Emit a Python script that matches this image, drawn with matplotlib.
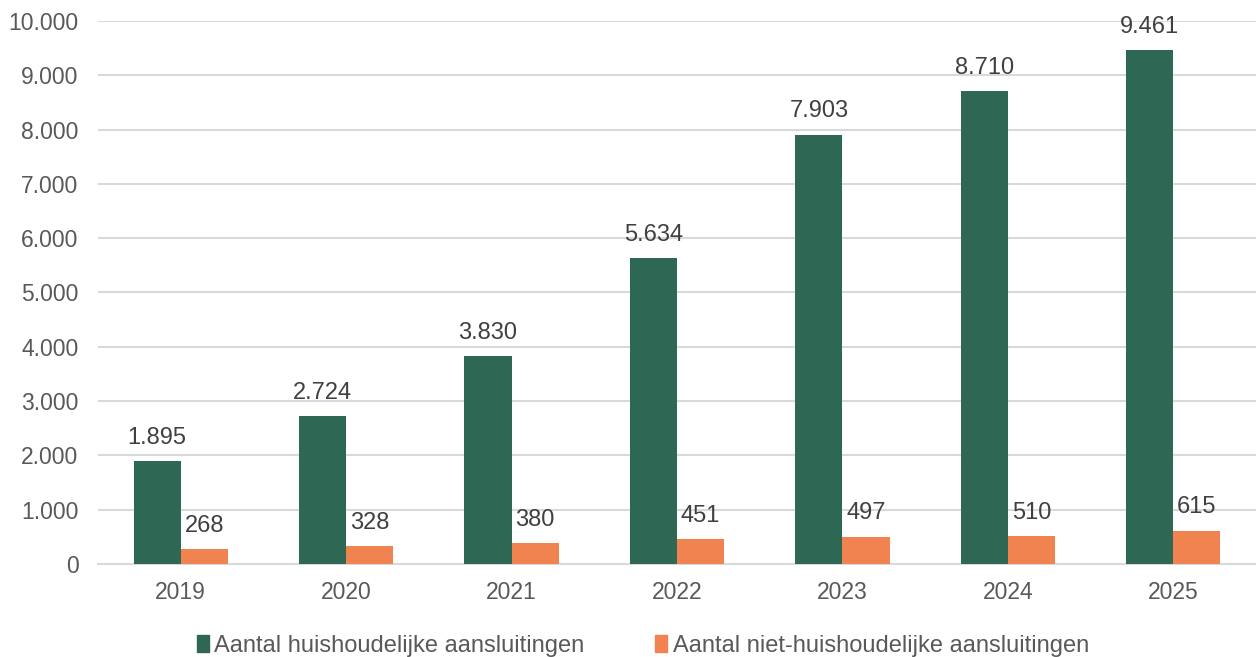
import matplotlib
matplotlib.use("Agg")
import matplotlib.pyplot as plt
import numpy as np
from matplotlib.ticker import FuncFormatter
from matplotlib.patches import Patch

years = ["2019", "2020", "2021", "2022", "2023", "2024", "2025"]
huishoudelijk = [1895, 2724, 3830, 5634, 7903, 8710, 9461]
niet_huishoudelijk = [268, 328, 380, 451, 497, 510, 615]
series_names = ["Aantal huishoudelijke aansluitingen", "Aantal niet-huishoudelijke aansluitingen"]

green = "#2E6754"
orange = "#F0834F"

plt.rcParams['font.family'] = ['Liberation Sans', 'DejaVu Sans']

fig = plt.figure(figsize=(12.56, 6.57), dpi=100)
ax = fig.add_axes([0.078, 0.1416, 0.922, 0.8264])

x = np.arange(len(years))
w = 0.285
b1 = ax.bar(x - w/2, huishoudelijk, w, color=green, zorder=3)
b2 = ax.bar(x + w/2, niet_huishoudelijk, w, color=orange, zorder=3)

def fmt(v):
    return f"{int(v):,}".replace(",", ".")

for rects, vals in ((b1, huishoudelijk), (b2, niet_huishoudelijk)):
    for r, v in zip(rects, vals):
        ax.annotate(fmt(v), (r.get_x() + r.get_width()/2, v), xytext=(0, 9),
                    textcoords="offset points", ha="center", va="bottom",
                    fontsize=17, color="#404040")

ax.set_xlim(-0.5, len(years) - 0.5)
ax.set_ylim(0, 10000)
ax.set_yticks(np.arange(0, 10001, 1000))
ax.yaxis.set_major_formatter(FuncFormatter(lambda v, p: fmt(v)))
ax.set_xticks(x)
ax.set_xticklabels(years)
ax.tick_params(axis="both", length=0, labelsize=16.5, labelcolor="#595959")
ax.tick_params(axis="x", pad=12)
ax.tick_params(axis="y", pad=14)
ax.grid(axis="y", color="#D9D9D9", linewidth=1.5, zorder=0)
for s in ("top", "right", "left"):
    ax.spines[s].set_visible(False)
ax.spines["bottom"].set_color("#D9D9D9")
ax.spines["bottom"].set_linewidth(1.5)

handles = [Patch(color=green), Patch(color=orange)]
fig.legend(handles, series_names, loc="center", bbox_to_anchor=(0.512, 0.017),
           ncol=2, frameon=False, fontsize=17, labelcolor="#595959",
           handlelength=0.5, handleheight=0.7, handletextpad=0.25, columnspacing=3.0)

fig.savefig("out.png", dpi=100)
